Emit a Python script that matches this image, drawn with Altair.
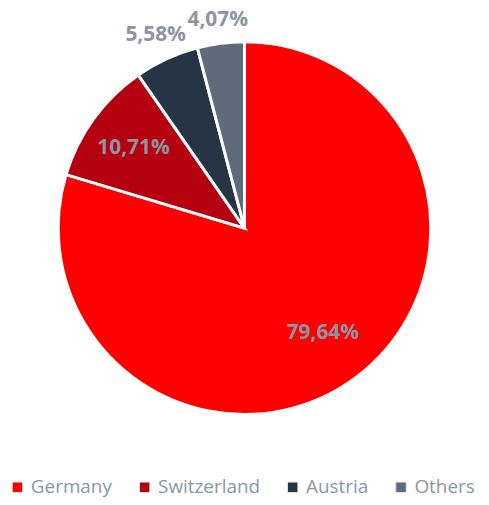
import altair as alt
import pandas as pd

countries = ["Germany", "Switzerland", "Austria", "Others"]
shares = [79.64, 10.71, 5.58, 4.07]
labels = ["79,64%", "10,71%", "5,58%", "4,07%"]
label_radius = [132, 138, 214, 211]
colors = ["#FF0000", "#B5000F", "#253545", "#5F6B7A"]

df = pd.DataFrame({
    "country": countries,
    "share": shares,
    "label": labels,
    "lr": label_radius,
    "order": list(range(len(countries))),
})

theta_scale = alt.Scale(domain=[0, 100])

color = alt.Color(
    "country:N",
    scale=alt.Scale(domain=countries, range=colors),
    sort=countries,
    legend=alt.Legend(
        title=None,
        orient="none",
        legendX=0,
        legendY=471,
        direction="horizontal",
        symbolType="square",
        symbolSize=110,
        symbolStrokeColor="#E3E3E3",
        symbolStrokeWidth=1,
        labelFontSize=19,
        labelColor="#8C96A3",
        labelFont="Open Sans",
        columnPadding=23,
    ),
)

pie = alt.Chart(df).mark_arc(outerRadius=187.5, stroke="white", strokeWidth=3).encode(
    theta=alt.Theta("share:Q", stack=True, scale=theta_scale),
    order=alt.Order("order:Q"),
    color=color,
)

text = alt.Chart(df).transform_window(
    cum="sum(share)", sort=[alt.SortField("order")]
).transform_calculate(
    mid="datum.cum - datum.share / 2"
).mark_text(
    font="Open Sans", fontWeight="bold", fontSize=21, color="#8C96A3"
).encode(
    theta=alt.Theta("mid:Q", stack=None, scale=theta_scale),
    radius=alt.Radius("lr:Q", scale=None),
    text="label:N",
)

chart = (pie + text).properties(
    width=476,
    height=440,
    padding={"left": 0, "top": 0, "right": 0, "bottom": 49},
    autosize=alt.AutoSizeParams(type="none"),
).configure_view(stroke=None)

chart.save("out.html", embed_options={"renderer": "svg", "actions": False})
